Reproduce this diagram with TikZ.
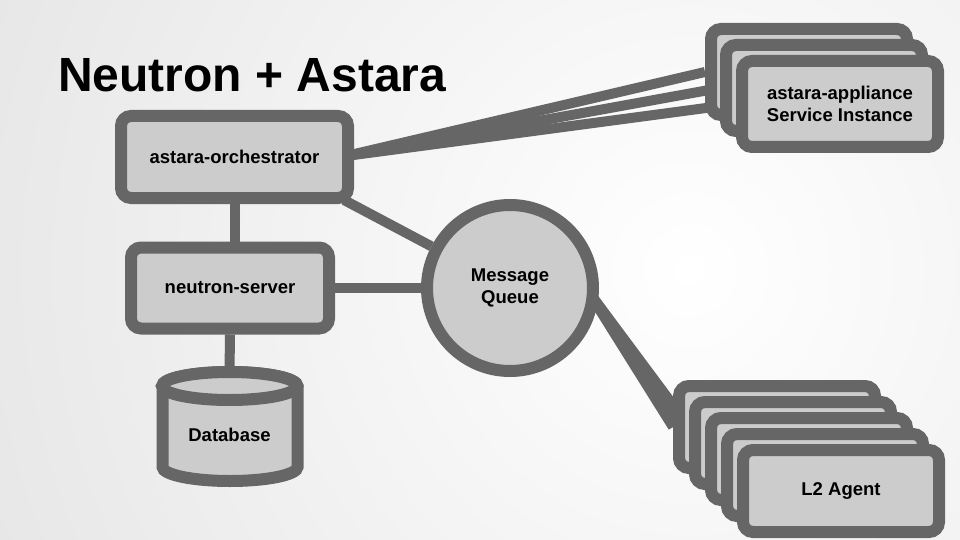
\documentclass[tikz,border=0pt]{standalone}
\usepackage{fontspec}
\setmainfont{Liberation Sans}
\definecolor{edgegray}{HTML}{666666}
\definecolor{boxfill}{HTML}{CCCCCC}
\definecolor{bgout}{HTML}{D2D2D2}
\pgfdeclarelayer{bg}
\pgfdeclarelayer{links}
\pgfsetlayers{bg,links,main}
\begin{document}
\begin{tikzpicture}[x=1pt,y=-1pt,
  box/.style={draw=edgegray, fill=boxfill, line width=12pt, rounded corners=10pt,
    font=\bfseries\fontsize{18.5}{22}\selectfont, align=center, inner sep=0pt},
  appbox/.style={box, minimum width=196pt, minimum height=86pt},
  l2box/.style={box, minimum width=196pt, minimum height=82pt},
  mq/.style={circle, draw=edgegray, fill=boxfill, line width=12pt, minimum size=166pt,
    font=\bfseries\fontsize{18.5}{22}\selectfont, align=center, inner sep=0pt},
  link/.style={draw=edgegray, line width=10pt},
  dbshape/.style={draw=edgegray, fill=boxfill, line width=12pt},
  title/.style={font=\bfseries\fontsize{48}{56}\selectfont, anchor=base west, inner sep=0pt}]
\useasboundingbox (0,0) rectangle (960,540);
\begin{pgfonlayer}{bg}
  \fill[bgout] (0,0) rectangle (960,540);
  \begin{scope}
    \clip (0,0) rectangle (960,540);
    \shade[inner color=white, outer color=bgout] (690,270) circle (1400);
  \end{scope}
\end{pgfonlayer}

\node[title] (ttl) at (58,92) {Neutron + Astara};

\node[box, minimum width=227pt, minimum height=82pt] (orch) at (234.5,157) {astara-orchestrator};
\node[box, minimum width=198pt, minimum height=81pt] (ns) at (230,288) {neutron-server};
\node[mq] (mq) at (510,288) {Message\\Queue};

% database cylinder
\path[dbshape] (162.5,386) -- (162.5,467) arc[start angle=180,end angle=0,x radius=67.5,y radius=14]
  -- (297.5,386) arc[start angle=0,end angle=-180,x radius=67.5,y radius=14] -- cycle;
\draw[dbshape] (229.5,386) ellipse[x radius=67.5,y radius=14];
\node[font=\bfseries\fontsize{18.5}{22}\selectfont, minimum height=126pt, inner sep=0pt] (db) at (229.5,435) {Database};

% appliance stack
\node[appbox] (app1) at (809,72) {};
\node[appbox] (app2) at (824,88) {};
\node[appbox] (app3) at (840,104) {astara-appliance\\Service Instance};

% L2 agent stack
\node[l2box] (l2a) at (777,427) {};
\node[l2box] (l2b) at (793,443) {};
\node[l2box] (l2c) at (809,459) {};
\node[l2box] (l2d) at (825,475) {};
\node[l2box] (l2e) at (841,491) {L2 Agent};

\coordinate (fanA) at (346,156);
\coordinate (fanB) at (586,288);

\begin{pgfonlayer}{links}
  \draw[link] (orch.south) -- (orch.south |- ns.north);
  \draw[link] (ns.south) -- (db.north);
  \draw[link] (ns.east) -- (mq.west);
  \draw[link] (orch.south east) ++(-10,-4) coordinate (oq) -- (mq);
  \draw[link] (fanA) -- (app1.west);
  \draw[link] (fanA) -- (app2.west);
  \draw[link] (fanA) -- (app3.west);
  \draw[link] (fanB) -- (l2a.west);
  \draw[link] (fanB) -- (l2b.west);
  \draw[link] (fanB) -- (l2c.west);
  \draw[link] (fanB) -- (l2d.west);
  \draw[link] (fanB) -- (l2e.west);
\end{pgfonlayer}
\end{tikzpicture}
\end{document}
